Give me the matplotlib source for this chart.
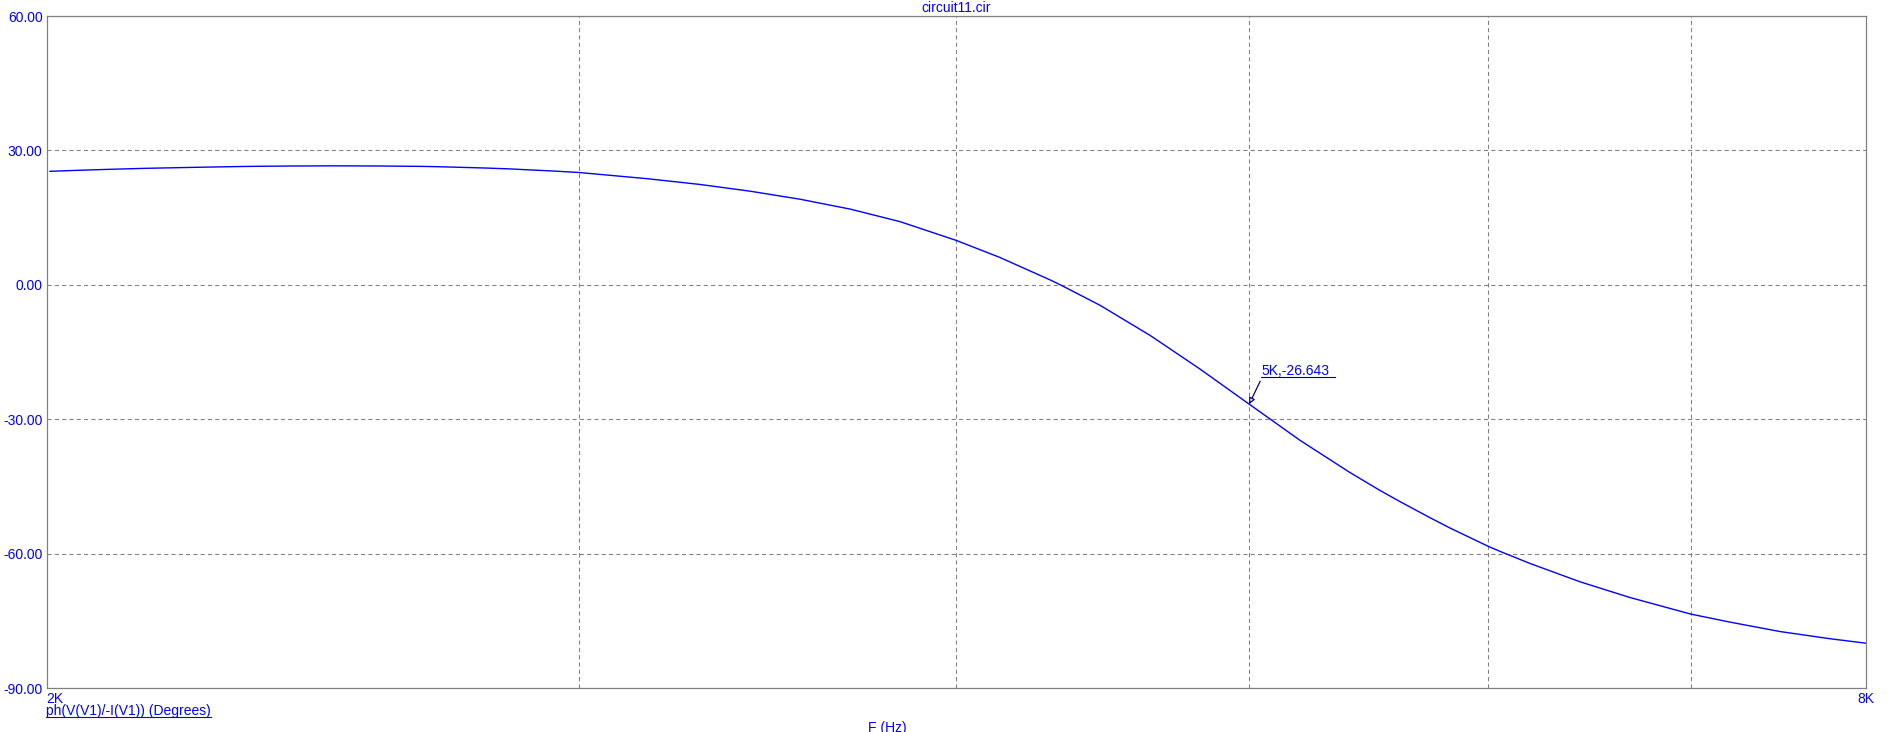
import matplotlib
matplotlib.use('Agg')
import matplotlib.pyplot as plt
from matplotlib.lines import Line2D

plt.rcParams['font.family'] = ['Liberation Sans', 'DejaVu Sans']
plt.rcParams['font.size'] = 10

# phase, Hz / degrees
freq_hz = [2005, 2047, 2099, 2157, 2231, 2326, 2410, 2491, 2580, 2670, 2715, 2793,
           2851, 2899, 2942, 2980, 3000, 3159, 3290, 3418, 3551, 3689, 3832, 4000,
           4135, 4296, 4334, 4463, 4636, 4816, 5000, 5197, 5399, 5524, 5609, 5739,
           5827, 6000, 6053, 6193, 6434, 6683, 7000, 7213, 7493, 7783, 8000]
phase_deg = [25.33, 25.55, 25.78, 26.0, 26.2, 26.42, 26.52, 26.55, 26.52, 26.42, 26.3, 26.07,
             25.85, 25.6, 25.4, 25.18, 25.07, 23.7, 22.4, 20.9, 19.1, 16.9, 14.1, 9.9,
             6.1, 1.1, -0.15, -4.58, -11.28, -18.8, -26.643, -34.7, -41.9, -45.9, -48.4, -52.0,
             -54.3, -58.4, -59.5, -62.2, -66.3, -69.8, -73.5, -75.3, -77.4, -79.0, -80.0]

y_ticks = [-90, -60, -30, 0, 30, 60]
grid_freqs = [3000, 4000, 5000, 6000, 7000]
marker_f, marker_v = 5000, -26.643

blue = '#0000ff'
navy = '#000080'
gray = '#808080'

fig = plt.figure(figsize=(18.99, 7.32), dpi=100)
ax = fig.add_axes([46.7 / 1899, 1 - 688 / 732, (1866 - 46.7) / 1899, (688 - 16) / 732])

ax.plot(freq_hz, phase_deg, color=blue, lw=1.0)
ax.set_xscale('log')
ax.set_xlim(2000, 8000)
ax.set_ylim(-90, 60)

ax.set_yticks(y_ticks)
ax.set_yticklabels(['%.2f' % v for v in y_ticks], color=blue)
ax.set_xticks([])
ax.set_xticks(grid_freqs, minor=True)
ax.xaxis.set_minor_formatter(plt.NullFormatter())
ax.tick_params(which='both', length=0)
ax.tick_params(axis='y', pad=3)
ax.grid(True, which='minor', axis='x', color=gray, ls=(0, (4, 3)), lw=0.75)
ax.grid(True, which='major', axis='y', color=gray, ls=(0, (4, 3)), lw=0.75)
for s in ax.spines.values():
    s.set_color(gray)
    s.set_linewidth(0.9)

ax.text(0, -4 / 672, '2K', transform=ax.transAxes, ha='left', va='top', color=blue)
ax.text(1, -4 / 672, '8K', transform=ax.transAxes, ha='center', va='top', color=blue)

fig.text(956.4 / 1899, 1 - 1 / 732, 'circuit11.cir', ha='center', va='top', color=blue)
fig.text(887 / 1899, 1 - 721 / 732, 'F (Hz)', ha='center', va='top', color=blue)
ylab = fig.text(46 / 1899, 1 - 704 / 732, 'ph(V(V1)/-I(V1)) (Degrees)', ha='left', va='top', color=blue)

# marker label with leader line
ax.annotate('', xy=(marker_f, marker_v), xytext=(11, 23), textcoords='offset pixels',
            arrowprops=dict(arrowstyle='-|>', color=navy, fc='white', lw=0.9,
                            shrinkA=0, shrinkB=0, mutation_scale=9))
mlab = ax.annotate('%dK,%.3f' % (marker_f // 1000, marker_v), xy=(marker_f, marker_v),
                   xytext=(12, 26), textcoords='offset pixels', ha='left', va='bottom',
                   color=blue)

fig.canvas.draw()
inv = fig.transFigure.inverted()


def underline(t, extra=0, color=blue):
    bb = t.get_window_extent()
    (x0, y0), (x1, _) = inv.transform([(bb.x0, bb.y0 + 1), (bb.x1 + extra, bb.y0)])
    fig.add_artist(Line2D([x0, x1], [y0, y0], color=color, lw=0.8, transform=fig.transFigure))


underline(ylab)
underline(mlab, extra=6, color=navy)

fig.savefig('out.png', dpi=100)
